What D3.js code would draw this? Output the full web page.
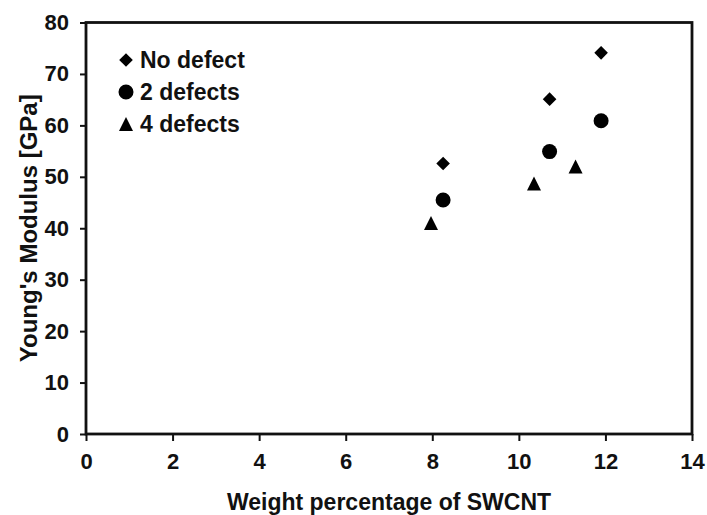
<!DOCTYPE html>
<html>
<head>
<meta charset="utf-8">
<script src="https://cdn.jsdelivr.net/npm/d3@7"></script>
<style>
  html, body { margin: 0; padding: 0; background: #fff; }
  svg { display: block; }
  text { font-family: "Liberation Sans", Arial, sans-serif; font-weight: bold; fill: #111; }
</style>
</head>
<body>
<svg id="chart" width="707" height="515"></svg>
<script>
// Series: weight percentage of SWCNT vs Young's modulus (GPa)
const noDefectX = [8.25, 10.71, 11.90];
const noDefectY = [52.6, 65.1, 74.1];
const twoDefectsX = [8.25, 10.71, 11.90];
const twoDefectsY = [45.5, 54.9, 60.9];
const fourDefectsX = [7.97, 10.35, 11.31];
const fourDefectsY = [41.0, 48.7, 52.0];

const seriesNames = ["No defect", "2 defects", "4 defects"];
const seriesShapes = ["diamond", "circle", "triangle"];

const xTicks = [0, 2, 4, 6, 8, 10, 12, 14];
const yTicks = [0, 10, 20, 30, 40, 50, 60, 70, 80];

const xTitle = "Weight percentage of SWCNT";
const yTitle = "Young's Modulus [GPa]";

const svg = d3.select("#chart");
const plot = { left: 86, right: 692, top: 22.5, bottom: 434 };

const x = d3.scaleLinear().domain([0, 14]).range([plot.left, plot.right]);
const y = d3.scaleLinear().domain([0, 80]).range([plot.bottom, plot.top]);

// Marker path generators centred on (cx, cy)
function markerPath(shape, cx, cy) {
  if (shape === "diamond") {
    const h = 6.8;
    return `M${cx},${cy - h}L${cx + h},${cy}L${cx},${cy + h}L${cx - h},${cy}Z`;
  }
  if (shape === "circle") {
    const r = 7.5;
    return `M${cx - r},${cy}A${r},${r} 0 1,0 ${cx + r},${cy}A${r},${r} 0 1,0 ${cx - r},${cy}Z`;
  }
  const w = 7, h = 7;
  return `M${cx},${cy - h}L${cx + w},${cy + h}L${cx - w},${cy + h}Z`;
}

// Axes with ticks pointing outward
const xAxis = d3.axisBottom(x).tickValues(xTicks).tickSize(7).tickFormat(d3.format("d")).tickPadding(12);
const yAxis = d3.axisLeft(y).tickValues(yTicks).tickSize(6).tickFormat(d3.format("d")).tickPadding(11);

const gx = svg.append("g").attr("transform", `translate(0,${plot.bottom})`).call(xAxis);
const gy = svg.append("g").attr("transform", `translate(${plot.left},0)`).call(yAxis);

[gx, gy].forEach(g => {
  g.select(".domain").remove();
  g.selectAll(".tick line").attr("stroke", "#111").attr("stroke-width", 2);
  g.selectAll(".tick text")
    .attr("font-size", 22)
    .attr("font-family", "Liberation Sans, Arial, sans-serif")
    .attr("font-weight", "bold")
    .attr("fill", "#111");
});
gx.selectAll(".tick text").attr("dy", "0.71em");

// Plot frame
svg.append("rect")
  .attr("x", plot.left).attr("y", plot.top)
  .attr("width", plot.right - plot.left).attr("height", plot.bottom - plot.top)
  .attr("fill", "none").attr("stroke", "#111").attr("stroke-width", 2.8);

// Data markers
const allSeries = [
  { xs: noDefectX, ys: noDefectY },
  { xs: twoDefectsX, ys: twoDefectsY },
  { xs: fourDefectsX, ys: fourDefectsY }
];
allSeries.forEach((s, i) => {
  svg.append("g").selectAll("path")
    .data(d3.zip(s.xs, s.ys))
    .join("path")
    .attr("d", d => markerPath(seriesShapes[i], x(d[0]), y(d[1])))
    .attr("fill", "#000");
});

// Legend
const legend = svg.append("g");
const legendRows = [60, 92, 124];
seriesNames.forEach((name, i) => {
  legend.append("path").attr("d", markerPath(seriesShapes[i], 126, legendRows[i])).attr("fill", "#000");
  legend.append("text")
    .attr("x", 140).attr("y", legendRows[i] + 8)
    .attr("font-size", 23)
    .text(name);
});

// Axis titles
svg.append("text")
  .attr("x", (plot.left + plot.right) / 2).attr("y", 510)
  .attr("text-anchor", "middle").attr("font-size", 23)
  .text(xTitle);

svg.append("text")
  .attr("transform", `translate(37,${(plot.top + plot.bottom) / 2}) rotate(-90)`)
  .attr("text-anchor", "middle").attr("font-size", 24)
  .text(yTitle);
</script>
</body>
</html>
